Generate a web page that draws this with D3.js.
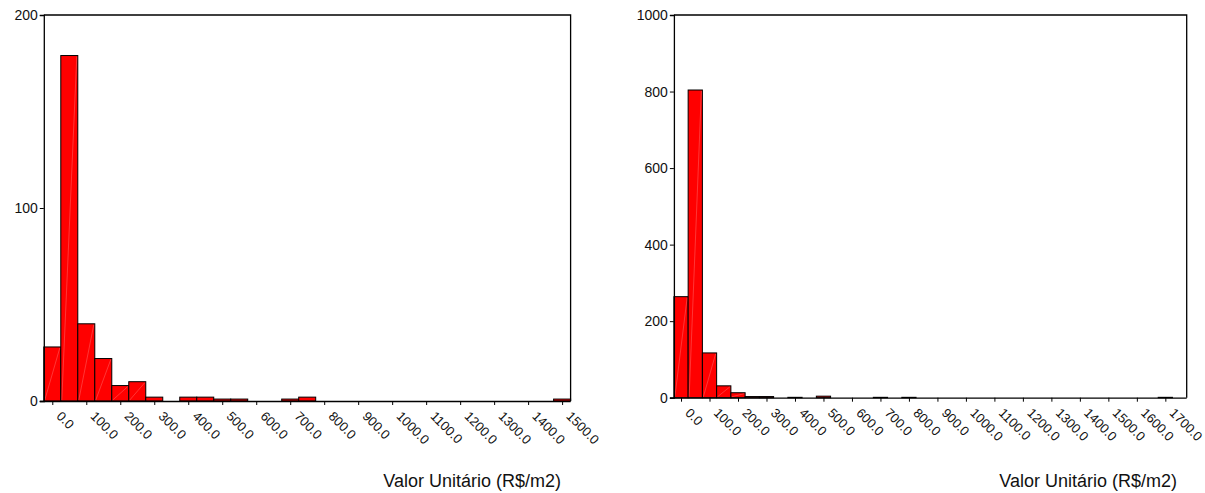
<!DOCTYPE html>
<html>
<head>
<meta charset="utf-8">
<script src="https://cdn.jsdelivr.net/npm/d3@7/dist/d3.min.js"></script>
<style>
  html, body { margin: 0; padding: 0; background: #fff; }
  svg { display: block; font-family: "Liberation Sans", Arial, sans-serif; }
</style>
</head>
<body>
<svg id="chart" width="1205" height="493"></svg>
<script>
// Histogram of unit values (R$/m2), bins of width 50 centred on multiples of 50
const leftBinCenters = [0,50,100,150,200,250,300,350,400,450,500,550,600,650,700,750,800,850,900,950,1000,1050,1100,1150,1200,1250,1300,1350,1400,1450,1500];
const leftCounts     = [28,179,40,22,8,10,2,0,2,2,1,1,0,0,1,2,0,0,0,0,0,0,0,0,0,0,0,0,0,0,1];
const leftXTicks     = [0,100,200,300,400,500,600,700,800,900,1000,1100,1200,1300,1400,1500];
const leftXLabels    = ["0.0","100.0","200.0","300.0","400.0","500.0","600.0","700.0","800.0","900.0","1000.0","1100.0","1200.0","1300.0","1400.0","1500.0"];
const leftYTicks     = [0,100,200];

const rightBinCenters = [0,50,100,150,200,250,300,350,400,450,500,550,600,650,700,750,800,850,900,950,1000,1050,1100,1150,1200,1250,1300,1350,1400,1450,1500,1550,1600,1650,1700,1750];
const rightCounts     = [264,804,117,31,13,3,3,0,1,0,4,0,0,0,1,0,1,0,0,0,0,0,0,0,0,0,0,0,0,0,0,0,0,0,1,0];
const rightXTicks     = [0,100,200,300,400,500,600,700,800,900,1000,1100,1200,1300,1400,1500,1600,1700];
const rightXLabels    = ["0.0","100.0","200.0","300.0","400.0","500.0","600.0","700.0","800.0","900.0","1000.0","1100.0","1200.0","1300.0","1400.0","1500.0","1600.0","1700.0"];
const rightYTicks     = [0,200,400,600,800,1000];

const binWidth = 50;
const axisTitle = "Valor Unitário (R$/m2)";

const svg = d3.select("#chart");

function histogram(cfg) {
  const x = d3.scaleLinear().domain(cfg.xDomain).range([cfg.left, cfg.right]);
  const y = d3.scaleLinear().domain(cfg.yDomain).range([cfg.bottom, cfg.top]);
  const g = svg.append("g");

  const bins = cfg.centers.map((c, i) => ({ c, n: cfg.counts[i] })).filter(d => d.n > 0);

  // bars
  g.selectAll("rect.bar").data(bins).enter().append("rect")
    .attr("class", "bar")
    .attr("x", d => x(d.c - binWidth / 2))
    .attr("y", d => y(d.n))
    .attr("width", d => x(d.c + binWidth / 2) - x(d.c - binWidth / 2))
    .attr("height", d => y(0) - y(d.n))
    .attr("fill", "#ff0000")
    .attr("stroke", "#000")
    .attr("stroke-width", 1);

  // faint diagonal sheen inside each bar
  g.selectAll("line.sheen").data(bins.filter(d => y(0) - y(d.n) > 4)).enter().append("line")
    .attr("x1", d => x(d.c - binWidth / 2) + 1)
    .attr("y1", y(0) - 1)
    .attr("x2", d => x(d.c + binWidth / 2) - 1)
    .attr("y2", d => y(d.n) + 1)
    .attr("stroke", "#ffffff")
    .attr("stroke-opacity", 0.35)
    .attr("stroke-width", 0.6);

  // frame: top and right edges
  g.append("path")
    .attr("d", `M${cfg.left},${cfg.top}H${cfg.right}V${cfg.bottom}`)
    .attr("fill", "none").attr("stroke", "#000").attr("stroke-width", 1.3);

  // y axis
  const yAxis = d3.axisLeft(y).tickValues(cfg.yTicks).tickSize(4).tickFormat(d3.format("d"));
  const ya = g.append("g").attr("transform", `translate(${cfg.left},0)`).call(yAxis);
  ya.select(".domain").attr("stroke-width", 1.3);
  ya.selectAll("text").attr("font-size", 14).attr("fill", "#111").attr("x", -6);

  // x axis with slanted labels
  const xAxis = d3.axisBottom(x).tickValues(cfg.xTicks).tickSize(4).tickSizeOuter(0)
    .tickFormat((d, i) => cfg.xLabels[i]);
  const xa = g.append("g").attr("transform", `translate(0,${cfg.bottom})`).call(xAxis);
  xa.select(".domain").attr("d", `M${cfg.left - 4},0.5H${cfg.right}`).attr("stroke-width", 1.3);
  xa.selectAll("text")
    .attr("font-size", 13).attr("fill", "#111")
    .attr("text-anchor", "start")
    .attr("y", 0).attr("dy", 0)
    .attr("transform", "translate(3,16) rotate(45)");

  // axis title
  g.append("text")
    .attr("x", cfg.titleEnd).attr("y", 487)
    .attr("text-anchor", "end")
    .attr("font-size", 18).attr("fill", "#111")
    .text(axisTitle);
}

histogram({
  centers: leftBinCenters, counts: leftCounts,
  xTicks: leftXTicks, xLabels: leftXLabels, yTicks: leftYTicks,
  xDomain: [-25, 1525], yDomain: [0, 200],
  left: 43.8, right: 570.6, top: 15, bottom: 401, titleEnd: 561
});

histogram({
  centers: rightBinCenters, counts: rightCounts,
  xTicks: rightXTicks, xLabels: rightXLabels, yTicks: rightYTicks,
  xDomain: [-25, 1775], yDomain: [0, 1000],
  left: 673.9, right: 1186.7, top: 15, bottom: 397.7, titleEnd: 1177
});
</script>
</body>
</html>
